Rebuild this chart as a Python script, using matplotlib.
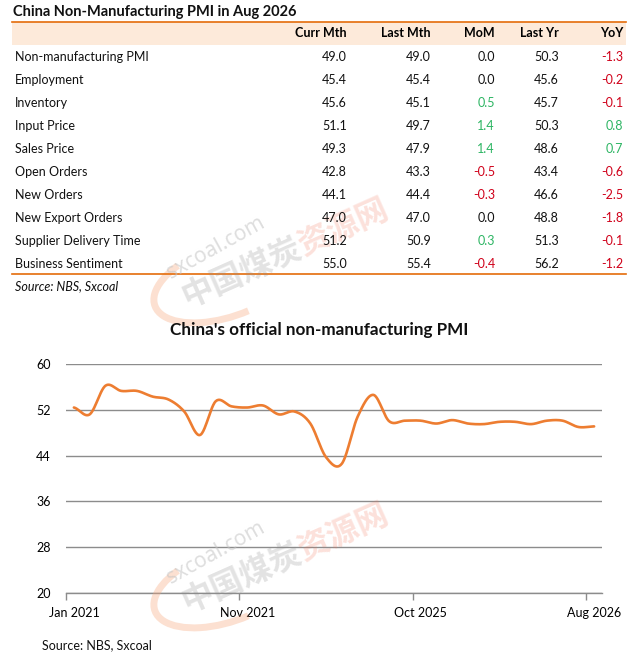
import numpy as np
import matplotlib.pyplot as plt
from matplotlib.lines import Line2D
from matplotlib.patches import Rectangle, Arc

plt.rcParams['font.family'] = ['Lato', 'DejaVu Sans']

W, H = 639, 664

# ── Table data ──────────────────────────────────────────────────────────────
headers = ["Curr Mth", "Last Mth", "MoM", "Last Yr", "YoY"]
row_names = ["Non-manufacturing PMI", "Employment", "Inventory", "Input Price",
             "Sales Price", "Open Orders", "New Orders", "New Export Orders",
             "Supplier Delivery Time", "Business Sentiment"]
curr_mth = [49.0, 45.4, 45.6, 51.1, 49.3, 42.8, 44.1, 47.0, 51.2, 55.0]
last_mth = [49.0, 45.4, 45.1, 49.7, 47.9, 43.3, 44.4, 47.0, 50.9, 55.4]
mom      = [0.0, 0.0, 0.5, 1.4, 1.4, -0.5, -0.3, 0.0, 0.3, -0.4]
last_yr  = [50.3, 45.6, 45.7, 50.3, 48.6, 43.4, 46.6, 48.8, 51.3, 56.2]
yoy      = [-1.3, -0.2, -0.1, 0.8, 0.7, -0.6, -2.5, -1.8, -0.1, -1.2]

# ── Chart data ──────────────────────────────────────────────────────────────
pmi = [52.4, 51.2, 56.2, 55.3, 55.3, 54.3, 53.8, 51.7, 47.6, 53.5,
       52.6, 52.4, 52.75, 51.2, 51.7, 49.6, 43.7, 42.6, 50.8, 54.6,
       50.0, 50.1, 50.1, 49.6, 50.2, 49.6, 49.5, 49.9, 49.9, 49.5,
       50.1, 50.1, 49.0, 49.1]
tick_labels = ["Jan 2021", "Nov 2021", "Oct 2025", "Aug 2026"]
tick_index = [0, 11, 22, 33]

ORANGE = "#ED7D31"
RED = "#D0021B"
GREEN = "#2DB563"
GRID = "#8C8C8C"


def fx(px):
    return px / W


def fy(py):
    return 1 - py / H


def smooth(y, n=24):
    # Catmull-Rom curve through the points (like Excel "smoothed line")
    y = np.asarray(y, float)
    xs, ys = [], []
    for i in range(len(y) - 1):
        p0 = y[i - 1] if i > 0 else y[i]
        p1, p2 = y[i], y[i + 1]
        p3 = y[i + 2] if i + 2 < len(y) else y[i + 1]
        t = np.linspace(0, 1, n, endpoint=False)
        h = 0.5 * (2 * p1 + (-p0 + p2) * t + (2 * p0 - 5 * p1 + 4 * p2 - p3) * t ** 2
                   + (-p0 + 3 * p1 - 3 * p2 + p3) * t ** 3)
        xs.append(i + t)
        ys.append(h)
    xs.append([len(y) - 1])
    ys.append([y[-1]])
    return np.concatenate(xs), np.concatenate(ys)


fig = plt.figure(figsize=(W / 100, H / 100), dpi=100, facecolor="white")

# ── Watermarks (sxcoal) ─────────────────────────────────────────────────────
ang = np.deg2rad(24)
step = 32  # px per CJK glyph along the baseline
for x0, y0 in ((198, 293), (198, 598)):
    fig.add_artist(Arc((fx(226), fy(y0 - 12)), 150 / W, 72 / H, angle=18,
                       theta1=145, theta2=290, transform=fig.transFigure,
                       color="#F7A77C", alpha=0.35, lw=5))
    fig.text(fx(216), fy(y0 - 45), "sxcoal.com", rotation=29, fontsize=15,
             color="#c4c4c4", alpha=0.55, ha="center", va="center",
             rotation_mode="anchor", family=["Noto Sans", "DejaVu Sans"])
    d1 = 1.5 * step
    fig.text(fx(x0 + d1 * np.cos(ang)), fy(y0 - d1 * np.sin(ang)), "中国煤炭",
             rotation=24, fontsize=23, weight="bold", color="#8f8f8f", alpha=0.25,
             ha="center", va="center", rotation_mode="anchor",
             family=["Noto Sans CJK SC", "DejaVu Sans"])
    d2 = 5 * step
    fig.text(fx(x0 + d2 * np.cos(ang)), fy(y0 - d2 * np.sin(ang)), "资源网",
             rotation=24, fontsize=23, weight="bold", color="#F2745A", alpha=0.22,
             ha="center", va="center", rotation_mode="anchor",
             family=["Noto Sans CJK SC", "DejaVu Sans"])

# ── Table ───────────────────────────────────────────────────────────────────
fig.text(fx(13), fy(12), "China Non-Manufacturing PMI in Aug 2026",
         fontsize=10.5, weight="bold", ha="left", va="center", color="#111111")
fig.add_artist(Rectangle((fx(12), fy(45)), fx(614), (23) / H,
                         transform=fig.transFigure, facecolor="#FDEADA",
                         edgecolor="none"))
fig.add_artist(Line2D([fx(12), fx(626)], [fy(22), fy(22)], color="#E46C0A", lw=1.2))
fig.add_artist(Line2D([fx(12), fx(626)], [fy(274), fy(274)], color="#E46C0A", lw=1.2))

col_right = [347, 431, 495, 559, 623]
for x, h in zip(col_right, headers):
    fig.text(fx(x), fy(33), h, fontsize=9, weight="bold", ha="right", va="center")


def val_color(v):
    if v > 0:
        return GREEN
    if v < 0:
        return RED
    return "#111111"


for i, name in enumerate(row_names):
    y = 57 + 23 * i
    fig.text(fx(15), fy(y), name, fontsize=9, ha="left", va="center", color="#111111")
    vals = [curr_mth[i], last_mth[i], mom[i], last_yr[i], yoy[i]]
    cols = ["#111111", "#111111", val_color(mom[i]), "#111111", val_color(yoy[i])]
    for x, v, c in zip(col_right, vals, cols):
        fig.text(fx(x), fy(y), f"{v:.1f}", fontsize=9, ha="right", va="center", color=c)

fig.text(fx(15), fy(286), "Source: NBS, Sxcoal", fontsize=9, style="italic",
         ha="left", va="center", color="#111111")

# ── Line chart ──────────────────────────────────────────────────────────────
fig.text(fx(319), fy(330), "China's official non-manufacturing PMI",
         fontsize=12.3, weight="bold", ha="center", va="center", color="#111111")

ax = fig.add_axes([fx(66), fy(593), (602 - 66) / W, (593 - 364) / H])
ax.patch.set_alpha(0)
sx, sy = smooth(pmi)
ax.plot(sx, sy, color=ORANGE, lw=1.9, solid_capstyle="round")

ax.set_ylim(20, 60)
ax.set_yticks(range(20, 61, 8))
ax.set_xlim(-0.5, len(pmi) - 0.5)
ax.set_xticks(tick_index, tick_labels)
ax.set_xticks(np.array(tick_index) - 0.5, minor=True)
ax.yaxis.grid(True, color=GRID, lw=1.0)
ax.set_axisbelow(True)
for s in ("left", "right", "top"):
    ax.spines[s].set_visible(False)
ax.spines["bottom"].set_color(GRID)
ax.spines["bottom"].set_linewidth(1.0)
ax.tick_params(axis="y", length=0, pad=11, labelsize=9)
ax.tick_params(axis="x", which="major", length=0, pad=10, labelsize=9)
ax.tick_params(axis="x", which="minor", length=5, color=GRID, width=1.0)

fig.text(fx(42), fy(645), "Source: NBS, Sxcoal", fontsize=9, ha="left", va="center",
         color="#111111")

fig.savefig("out.png", dpi=100)
